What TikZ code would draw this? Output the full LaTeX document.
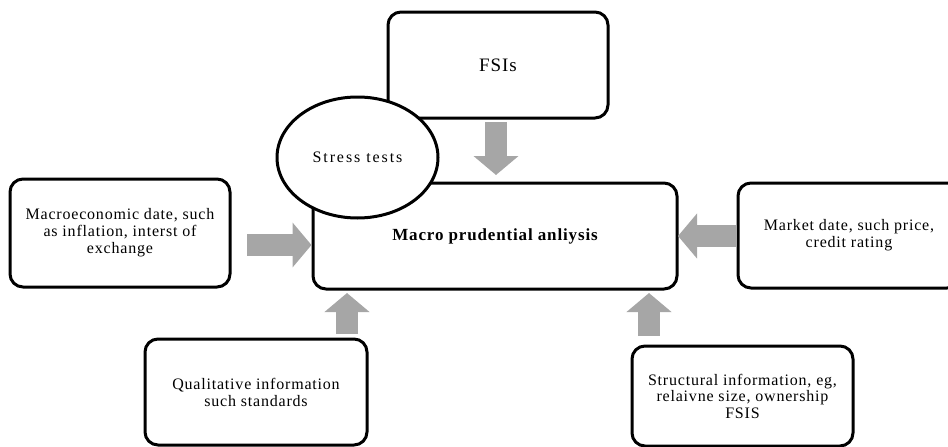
\documentclass[tikz,border=0pt]{standalone}
\usepackage{fontspec}
\setmainfont{Liberation Serif}
\newfontfamily\spacedfont[LetterSpace=5]{Liberation Serif}
\newfontfamily\widefont[LetterSpace=12]{Liberation Serif}
\newfontfamily\titlefont[LetterSpace=5]{Liberation Serif}
\usetikzlibrary{arrows.meta,calc,shapes.geometric}
\begin{document}
\begin{tikzpicture}[x=1pt,y=-1pt,
  box/.style={draw=black,line width=3pt,rounded corners=13pt,fill=white,align=center,
    font=\spacedfont\fontsize{16}{17}\selectfont,inner sep=0pt},
  bigarrow/.style={draw=black!35,line width=22pt,-{Triangle[width=44pt,length=19pt]}},
  ell/.style={draw=black,line width=3pt,fill=white,ellipse,inner sep=0pt,
    font=\widefont\fontsize{16}{17}\selectfont}]
\useasboundingbox (0,0) rectangle (948,447);
\clip (0,0) rectangle (948,447);
% boxes
\node[box,minimum width=364pt,minimum height=106pt,font=\spacedfont\bfseries\fontsize{17}{19}\selectfont] (main) at (495,236) {Macro prudential anliysis};
\node[box,minimum width=220pt,minimum height=106pt,font=\titlefont\fontsize{19}{22}\selectfont] (fsi) at (498,65) {FSIs};
\node[box,minimum width=220pt,minimum height=108pt] (macro) at (120,233) {Macroeconomic date, such\\as inflation, interst of\\exchange};
\node[box,minimum width=222pt,minimum height=105pt] (market) at (849,235.5) {Market date, such price,\\credit rating};
\node[box,minimum width=222pt,minimum height=106pt] (qual) at (256,392) {Qualitative information\\such standards};
\node[box,minimum width=221pt,minimum height=100pt,font=\spacedfont\fontsize{16}{16.5}\selectfont] (struct) at (742.5,396) {Structural information, eg,\\relaivne size, ownership\\FSIS};
% ellipse
\node[ell,minimum width=161pt,minimum height=121pt] (stress) at (357.5,157.5) {Stress tests};
% arrows
\coordinate (a1s) at (247,245);
\draw[bigarrow] (a1s) -- (main.west|-a1s);
\coordinate (a2s) at (496,122);
\draw[bigarrow] (a2s) -- (496,175);
\coordinate (a3s) at (738,236);
\draw[bigarrow] (market.west|-a3s) -- (678,236);
\coordinate (a4s) at (347,334);
\draw[bigarrow] (a4s) -- (347,293);
\coordinate (a5s) at (649,336);
\draw[bigarrow] (a5s) -- (649,293);
\end{tikzpicture}
\end{document}
